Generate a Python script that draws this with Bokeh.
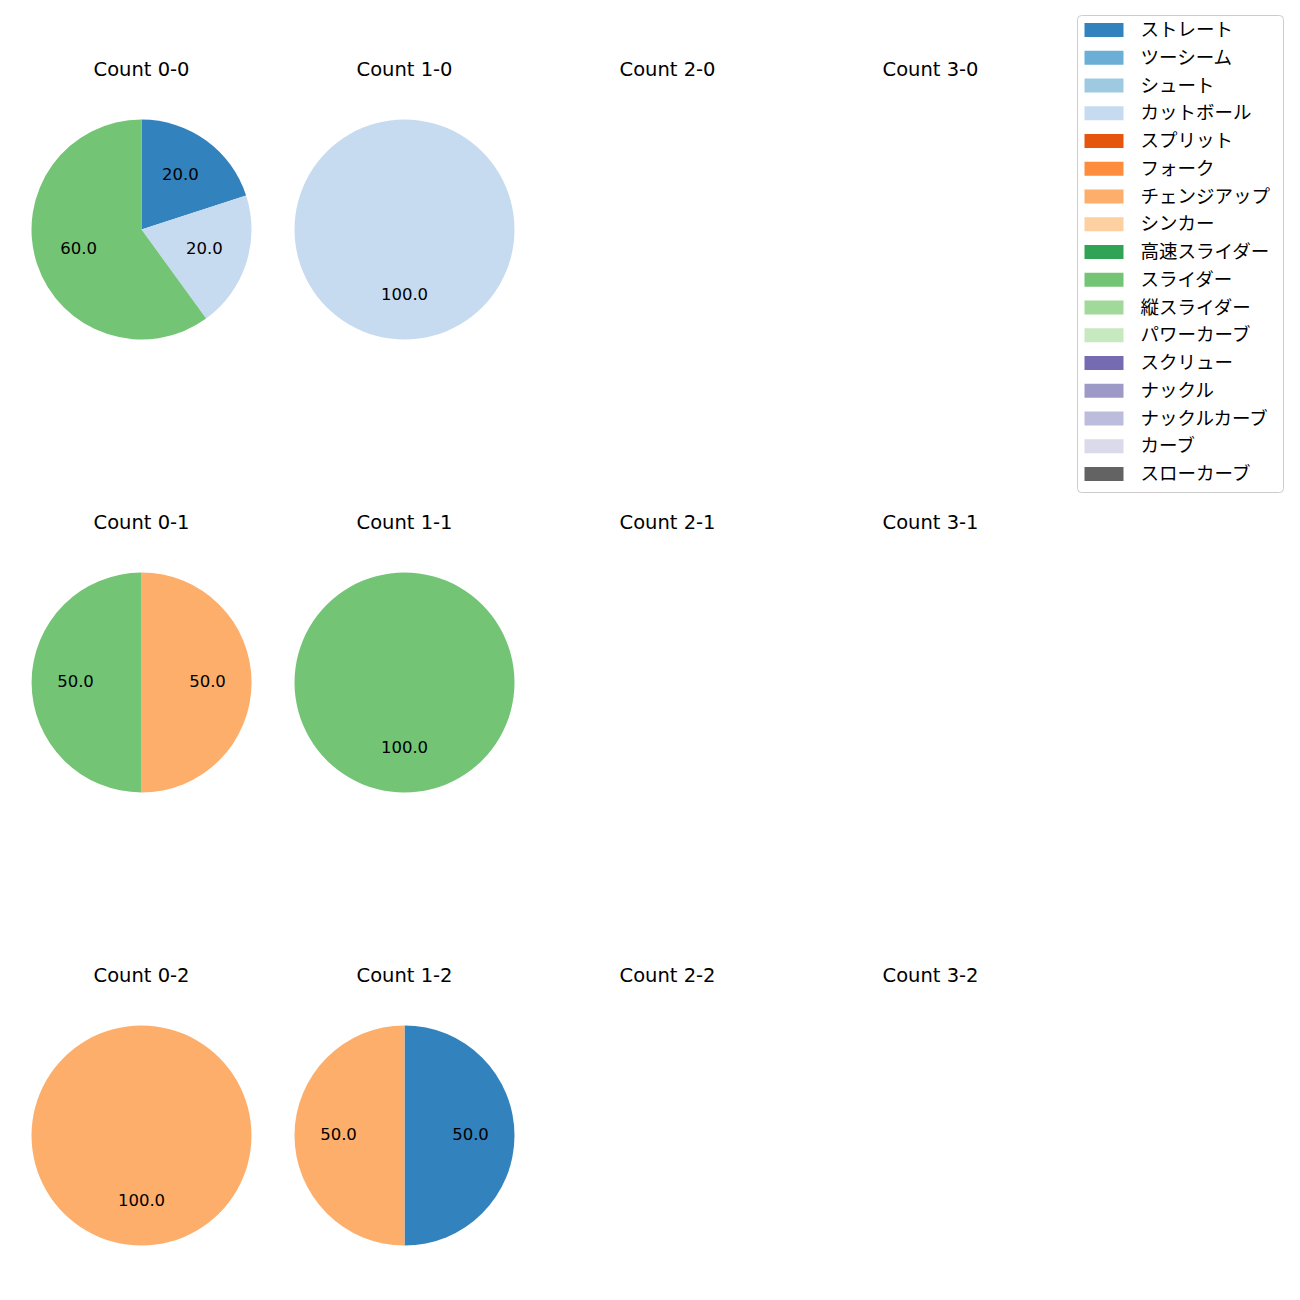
import math
from bokeh.plotting import figure
from bokeh.models import Range1d
from bokeh.core.properties import value
from bokeh.embed import file_html
from bokeh.resources import INLINE

# ---- data ----
pitch_types = ["ストレート", "ツーシーム", "シュート", "カットボール", "スプリット", "フォーク",
               "チェンジアップ", "シンカー", "高速スライダー", "スライダー", "縦スライダー",
               "パワーカーブ", "スクリュー", "ナックル", "ナックルカーブ", "カーブ", "スローカーブ"]
pitch_colors = ["#3182bd", "#6baed6", "#9ecae1", "#c6dbef", "#e6550d", "#fd8d3c",
                "#fdae6b", "#fdd0a2", "#31a354", "#74c476", "#a1d99b", "#c7e9c0",
                "#756bb1", "#9e9ac8", "#bcbddc", "#dadaeb", "#636363"]

panel_titles = ["Count 0-0", "Count 1-0", "Count 2-0", "Count 3-0",
                "Count 0-1", "Count 1-1", "Count 2-1", "Count 3-1",
                "Count 0-2", "Count 1-2", "Count 2-2", "Count 3-2"]
panel_pitches = [["ストレート", "カットボール", "スライダー"], ["カットボール"], [], [],
                 ["チェンジアップ", "スライダー"], ["スライダー"], [], [],
                 ["チェンジアップ"], ["ストレート", "チェンジアップ"], [], []]
panel_values = [[20, 20, 60], [100], [], [],
                [50, 50], [100], [], [],
                [100], [50, 50], [], []]

# ---- layout (page pixels; data y = H - pixel y) ----
H = 1300
col_x0, col_dx = 141, 263
row_y0, row_dy = 229, 453
R = 110
title_dy = 160
LATIN = value("DejaVu Sans")
CJK = value("Noto Sans CJK JP")

p = figure(width=1284, height=1284, output_backend="svg", toolbar_location=None,
           x_range=Range1d(0, 1284), y_range=Range1d(16, 1300), min_border=0)
p.axis.visible = False
p.grid.visible = False
p.outline_line_color = None
p.background_fill_color = "white"

color_of = dict(zip(pitch_types, pitch_colors))

wx, wy, ws, we, wc = [], [], [], [], []
lx, ly, lt = [], [], []
tx, ty, tt = [], [], []
for i, title in enumerate(panel_titles):
    c, r = i % 4, i // 4
    cx = col_x0 + c * col_dx
    cy = H - (row_y0 + r * row_dy)
    tx.append(cx); ty.append(cy + title_dy); tt.append(title)
    vals = panel_values[i]
    total = sum(vals)
    cum = 0.0
    for name, v in zip(panel_pitches[i], vals):
        a0 = math.pi / 2 - 2 * math.pi * cum / total
        cum += v
        a1 = math.pi / 2 - 2 * math.pi * cum / total
        if v == total:
            a1 = a0 - 2 * math.pi + 1e-6
        wx.append(cx); wy.append(cy); ws.append(a0); we.append(a1); wc.append(color_of[name])
        mid = (a0 + a1) / 2
        lx.append(cx + 0.6 * R * math.cos(mid)); ly.append(cy + 0.6 * R * math.sin(mid))
        lt.append(f"{100 * v / total:.1f}")

p.wedge(x=wx, y=wy, radius=R, start_angle=ws, end_angle=we, direction="clock",
        fill_color=wc, line_color=None)
p.text(x=lx, y=ly, text=lt, text_align="center", text_baseline="middle",
       text_font=LATIN, text_font_size="16.5px", text_color="black", y_offset=-2)
p.text(x=tx, y=ty, text=tt, text_align="center", text_baseline="middle",
       text_font=LATIN, text_font_size="19.5px", text_color="black")

# ---- legend ----
leg_x0, leg_x1, leg_y0, leg_y1 = 1077, 1283, 15, 492
p.quad(left=leg_x0, right=leg_x1, top=H - leg_y0, bottom=H - leg_y1,
       fill_color="white", fill_alpha=0.8, line_color="#cccccc", line_width=1,
       border_radius=4)
row0, drow = 29.5, 27.75
ky = [H - (row0 + k * drow) for k in range(len(pitch_types))]
p.rect(x=[1103.5] * len(pitch_types), y=ky, width=39, height=14,
       fill_color=pitch_colors, line_color=None)
p.text(x=[1140] * len(pitch_types), y=ky, text=pitch_types, text_align="left",
       text_baseline="middle", text_font=CJK, text_font_size="18.5px", text_color="black",
       y_offset=-2)

open("out.html", "w").write(file_html(p, INLINE))
